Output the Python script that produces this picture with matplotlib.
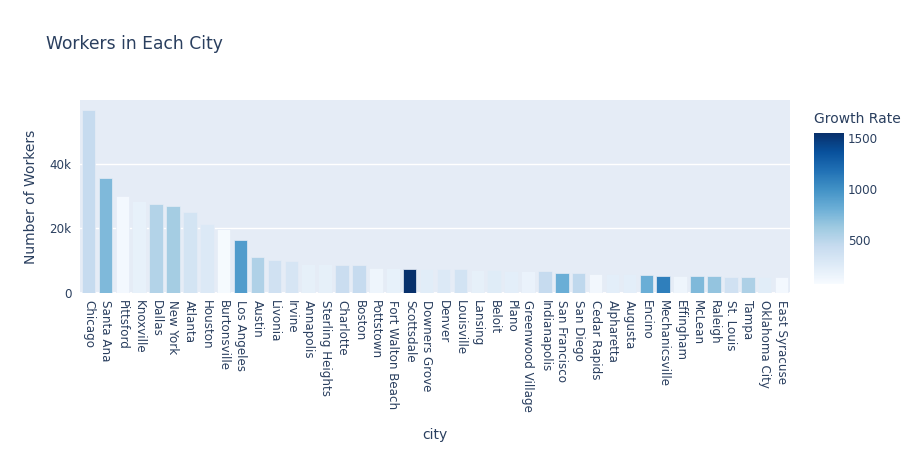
import matplotlib.pyplot as plt
import matplotlib as mpl
import numpy as np

cities = ["Chicago", "Santa Ana", "Pittsford", "Knoxville", "Dallas", "New York",
          "Atlanta", "Houston", "Burtonsville", "Los Angeles", "Austin", "Livonia",
          "Irvine", "Annapolis", "Sterling Heights", "Charlotte", "Boston", "Pottstown",
          "Fort Walton Beach", "Scottsdale", "Downers Grove", "Denver", "Louisville",
          "Lansing", "Beloit", "Plano", "Greenwood Village", "Indianapolis",
          "San Francisco", "San Diego", "Cedar Rapids", "Alpharetta", "Augusta",
          "Encino", "Mechanicsville", "Effingham", "McLean", "Raleigh", "St. Louis",
          "Tampa", "Oklahoma City", "East Syracuse"]
workers = [56800, 35700, 30000, 28600, 27600, 26900, 25100, 21500, 19800, 16400,
           11000, 10200, 9800, 9000, 9000, 8800, 8800, 7900, 7750, 7500, 7500, 7300,
           7300, 7200, 7100, 6900, 6900, 6700, 6100, 6100, 6000, 5900, 5900, 5500,
           5400, 5200, 5200, 5200, 5100, 4850, 4850, 4850]
growth = [440, 735, 97, 186, 530, 590, 335, 275, 82, 930, 545, 365, 320, 200, 200,
          410, 440, 140, 185, 1553, 230, 275, 350, 200, 245, 215, 170, 440, 810, 470,
          110, 215, 215, 810, 1105, 140, 735, 660, 365, 560, 230, 97]

txt = "#2a3f5f"
plt.rcParams['font.family'] = ['DejaVu Sans']

fig = plt.figure(figsize=(9.24, 4.5), dpi=100)
ax = fig.add_axes([80/924, 1-293/450, 710/924, 193/450])
ax.set_facecolor("#E5ECF6")

norm = mpl.colors.Normalize(vmin=67, vmax=1553)
cmap = plt.get_cmap("Blues")
x = np.arange(len(cities))
ax.bar(x, workers, width=0.8, color=cmap(norm(growth)), edgecolor="#E5ECF6",
       linewidth=0.5, zorder=3)

ax.set_xlim(-0.5, len(cities)-0.5)
ax.set_ylim(0, 59800)
ax.set_yticks([0, 20000, 40000])
ax.set_yticklabels(["0", "20k", "40k"])
ax.grid(axis='y', color='white', linewidth=1, zorder=0)
ax.axhline(0, color='white', linewidth=2, zorder=1)
for s in ax.spines.values():
    s.set_visible(False)
ax.tick_params(axis='both', length=0, colors=txt, labelsize=8.6)
ax.tick_params(axis='y', pad=6)
ax.tick_params(axis='x', pad=5)
ax.set_xticks(x)
ax.set_xticklabels(cities, rotation=-90, ha='center', va='top')

ax.set_ylabel("Number of Workers", color=txt, fontsize=10, labelpad=8)
ax.set_xlabel("city", color=txt, fontsize=10, labelpad=12)

fig.text(46/924, 1-44/450, "Workers in Each City", color=txt, fontsize=12.3,
         va='center', ha='left')

cax = fig.add_axes([814/924, 1-284/450, 30/924, 151/450])
cb = mpl.colorbar.ColorbarBase(cax, cmap=cmap, norm=norm)
cb.outline.set_visible(False)
cb.set_ticks([500, 1000, 1500])
cax.tick_params(length=0, colors=txt, labelsize=8.6, pad=3)
fig.text(814/924, 1-119/450, "Growth Rate", color=txt, fontsize=10,
         va='center', ha='left')

fig.savefig("out.png", dpi=100)
